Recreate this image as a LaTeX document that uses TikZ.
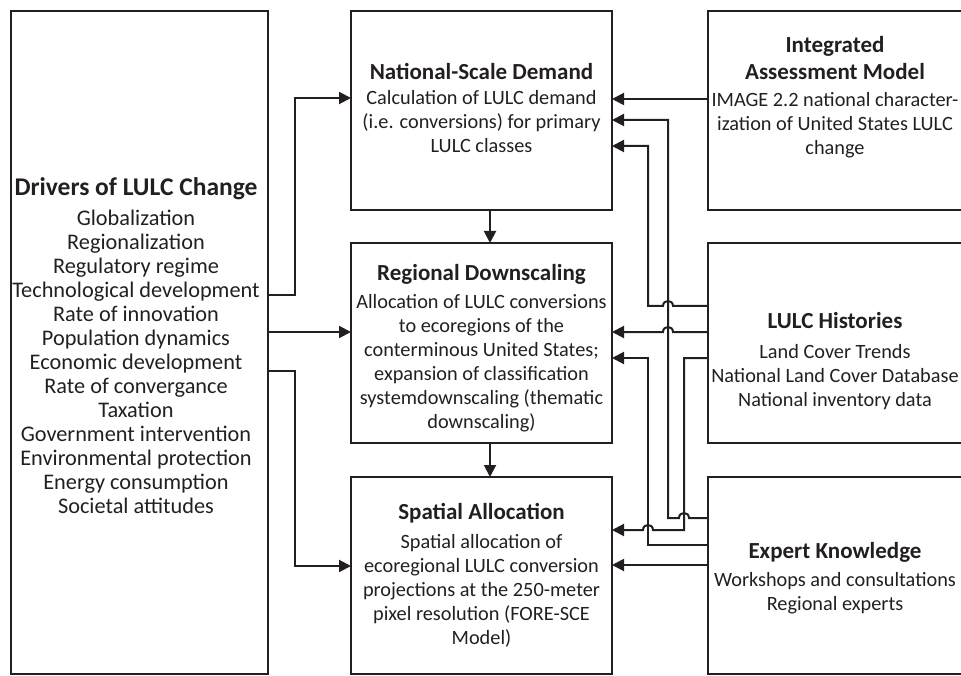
\documentclass[tikz,border=0pt]{standalone}
\usepackage{fontspec}
\setmainfont{Carlito}
\usetikzlibrary{arrows.meta,calc}
\definecolor{ink}{HTML}{231F20}
\begin{document}
\begin{tikzpicture}[x=1pt,y=-1pt,
  box/.style={draw=ink,line width=2.2pt,anchor=north west,inner sep=0pt,outer sep=0pt},
  txt/.style={align=center,inner sep=0pt,anchor=north,text=ink,font=\fontsize{20.3}{24}\selectfont},
  bigtxt/.style={txt,font=\fontsize{22.3}{24}\selectfont},
  arr/.style={draw=ink,line width=2pt,-{Triangle[length=12pt,width=12pt]}}]
\newcommand\hdr[1]{{\fontsize{23}{27}\selectfont\bfseries #1}}
\newcommand\bighdr[1]{{\fontsize{25.5}{27}\selectfont\bfseries #1}}
\useasboundingbox (0,0) rectangle (961,676);
% boxes
\node[box,minimum width=257pt,minimum height=663pt] (drv) at (11,11) {};
\node[box,minimum width=261pt,minimum height=199pt] (nat) at (351,11) {};
\node[box,minimum width=261pt,minimum height=200pt] (reg) at (351,243) {};
\node[box,minimum width=261pt,minimum height=197pt] (spa) at (351,477) {};
\node[box,minimum width=256pt,minimum height=199pt] (iam) at (708,11) {};
\node[box,minimum width=256pt,minimum height=200pt] (lul) at (708,243) {};
\node[box,minimum width=256pt,minimum height=197pt] (exp) at (708,477) {};
% texts
\node[bigtxt] (drvt) at (136,177.8) {\bighdr{Drivers of LULC Change}\\[6pt]
 Globalization\\ Regionalization\\ Regulatory regime\\ Technological development\\
 Rate of innovation\\ Population dynamics\\ Economic development\\ Rate of convergance\\
 Taxation\\ Government intervention\\ Environmental protection\\ Energy consumption\\ Societal attitudes};
\node[txt] (natt) at (481.5,63.6) {\hdr{National-Scale Demand}\\[1pt]
 Calculation of LULC demand\\ (i.e. conversions) for primary\\ LULC classes};
\node[txt] (regt) at (481.5,264.6) {\hdr{Regional Downscaling}\\[4pt]
 Allocation of LULC conversions\\ to ecoregions of the\\ conterminous United States;\\
 expansion of classification\\ systemdownscaling (thematic\\ downscaling)};
\node[txt] (spat) at (481.5,503.6) {\hdr{Spatial Allocation}\\[5pt]
 Spatial allocation of\\ ecoregional LULC conversion\\ projections at the 250-meter\\
 pixel resolution (FORE-SCE\\ Model)};
\node[txt] (iamt) at (835,36.6) {\hdr{Integrated}\\[3pt] \hdr{Assessment Model}\\[3pt]
 IMAGE 2.2 national character-\\ ization of United States LULC\\ change};
\node[txt] (lult) at (835,312.6) {\hdr{LULC Histories}\\[6pt]
 Land Cover Trends\\ National Land Cover Database\\ National inventory data};
\node[txt] (expt) at (835,542.6) {\hdr{Expert Knowledge}\\[4pt]
 Workshops and consultations\\ Regional experts};
% left connectors
\draw[arr] (drv.east |- 0,295) -- (295,295) -- (295,98) -- (nat.west |- 0,98);
\draw[arr] (drv.east |- 0,332) -- (reg.west |- 0,332);
\draw[arr] (drv.east |- 0,371) -- (295,371) -- (295,566) -- (spa.west |- 0,566);
% vertical connectors
\draw[arr] (nat.south -| 490,0) -- (reg.north -| 490,0);
\draw[arr] (reg.south -| 490,0) -- (spa.north -| 490,0);
% right connectors
\draw[arr] (iam.west |- 0,99) -- (nat.east |- 0,99);
\draw[arr] (exp.west |- 0,518) -- (689,518) .. controls (689,511.3) and (679,511.3) .. (679,518)
  -- (668,518) -- (668,120) -- (nat.east |- 0,120);
\draw[arr] (lul.west |- 0,306) -- (673,306) .. controls (673,299.3) and (663,299.3) .. (663,306)
  -- (648,306) -- (648,146) -- (nat.east |- 0,146);
\draw[arr] (lul.west |- 0,332) -- (673,332) .. controls (673,325.3) and (663,325.3) .. (663,332)
  -- (reg.east |- 0,332);
\draw[arr] (exp.west |- 0,545) -- (648,545) -- (648,358) -- (reg.east |- 0,358);
\draw[arr] (lul.west |- 0,358) -- (684,358) -- (684,530) -- (653,530)
  .. controls (653,523.3) and (643,523.3) .. (643,530) -- (spa.east |- 0,530);
\draw[arr] (exp.west |- 0,565) -- (spa.east |- 0,565);
\end{tikzpicture}
\end{document}
